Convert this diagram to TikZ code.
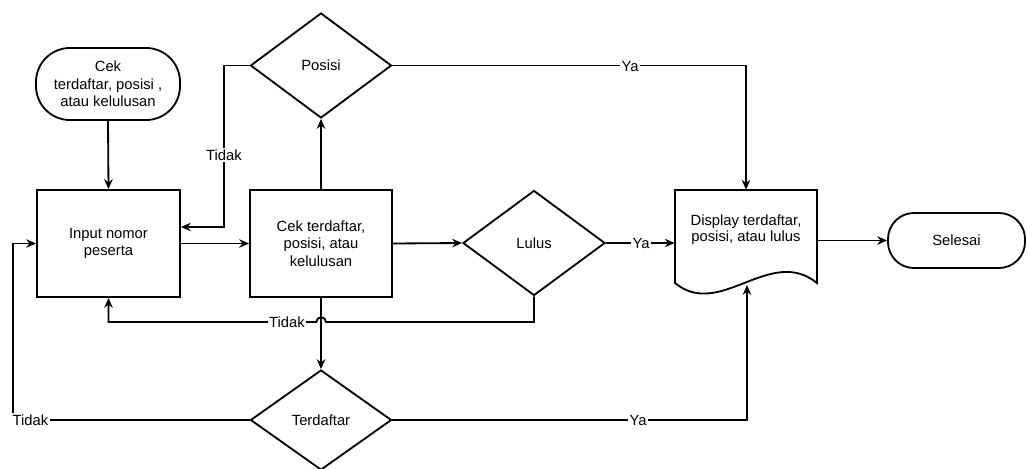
\documentclass[tikz,border=0pt]{standalone}
\usepackage{fontspec}
\setmainfont{Liberation Sans}
\usepackage{tikz}
\usetikzlibrary{shapes.geometric, arrows.meta, positioning, calc}
\tikzset{
  % Box styles
  terminalbox/.style={rectangle, rounded corners=0.85cm, draw=black, line width=1.3pt, align=center, inner sep=1pt, font=\fontsize{10.5}{12.5}\selectfont},
  processbox/.style={rectangle, draw=black, line width=1.3pt, minimum width=3.575cm, minimum height=2.675cm, align=center, font=\fontsize{10.5}{12.5}\selectfont},
  decisionbox/.style={diamond, draw=black, line width=1.3pt, minimum width=3.525cm, minimum height=2.625cm, inner sep=0pt, align=center, font=\fontsize{10.5}{12.5}\selectfont},
  docbox/.style={rectangle, minimum width=3.55cm, minimum height=2cm, align=center, font=\fontsize{10.5}{11.5}\selectfont},
  % Arrow styles
  flowarrow/.style={->, >={Stealth[length=7pt, width=6pt]}, line width=1.3pt},
  flowline/.style={line width=1.3pt},
  % Label style
  yesnolabel/.style={fill=white, inner sep=1pt, font=\fontsize{10.5}{12.5}\selectfont}
}

\begin{document}
\begin{tikzpicture}[x=0.025cm, y=-0.025cm]
  \useasboundingbox (0,0) rectangle (1027,468);

  % Nodes
  \node[terminalbox, minimum width=3.6cm, minimum height=1.8cm] (start) at (108,84) {Cek\\terdaftar, posisi ,\\atau kelulusan};
  \node[processbox] (input) at (108.5,243.5) {Input nomor\\peserta};
  \node[processbox, minimum width=3.55cm] (cek) at (321,243.5) {Cek terdaftar,\\posisi, atau\\kelulusan};
  \node[decisionbox] (posisi) at (321,65.5) {Posisi};
  \node[decisionbox, minimum width=3.55cm] (lulus) at (534,243) {Lulus};
  \node[decisionbox, minimum height=2.5cm] (terdaftar) at (321,420) {Terdaftar};
  \node[docbox] (doc) at (746,230) {Display terdaftar,\\posisi, atau lulus};
  \node[terminalbox, minimum width=3.425cm, minimum height=1.375cm, rounded corners=0.65cm] (selesai) at (956.5,240.5) {Selesai};

  % Document outline
  \draw[flowline] (675,190) -- (817,190) -- (817,283)
    .. controls (770,245) and (720,320) .. (675,283) -- cycle;

  % Helper points
  \coordinate (docwave) at (747,285);
  \coordinate (tposisi) at (224,227);
  \coordinate (tterdaftar) at (13,420);
  \coordinate (hop) at (326,322);

  % Main flow
  \draw[flowarrow] (start.south) -- (input.north);
  \draw[flowarrow] (input.east) -- (cek.west);
  \draw[flowarrow] (cek.north) -- (posisi.south);
  \draw[flowarrow] (cek.east) -- (lulus.west);
  \draw[flowarrow] (cek.south) -- (terdaftar.north);
  \draw[flowarrow] (doc.east |- selesai.west) -- (selesai.west);

  % Ya branches
  \draw[flowarrow] (posisi.east) -| (doc.north);
  \draw[flowarrow] (lulus.east) -- (lulus.east -| doc.west);
  \draw[flowarrow] (terdaftar.east) -| (docwave);

  % Tidak branches
  \draw[flowarrow] (posisi.west) -| (tposisi) -- (tposisi -| input.east);
  \draw[flowarrow] (lulus.south) |- (hop) arc (0:180:0.12cm) -| (input.south);
  \draw[flowarrow] (terdaftar.west) -- (tterdaftar) |- (input.west);

  % Labels
  \node[yesnolabel] (ya1) at (630,66) {Ya};
  \node[yesnolabel] (ya2) at (641,243) {Ya};
  \node[yesnolabel] (ya3) at (638,420) {Ya};
  \node[yesnolabel] (tidak1) at (224,155) {Tidak};
  \node[yesnolabel] (tidak2) at (287,322) {Tidak};
  \node[yesnolabel, anchor=west] (tidak3) at (11,420) {Tidak};
\end{tikzpicture}
\end{document}
